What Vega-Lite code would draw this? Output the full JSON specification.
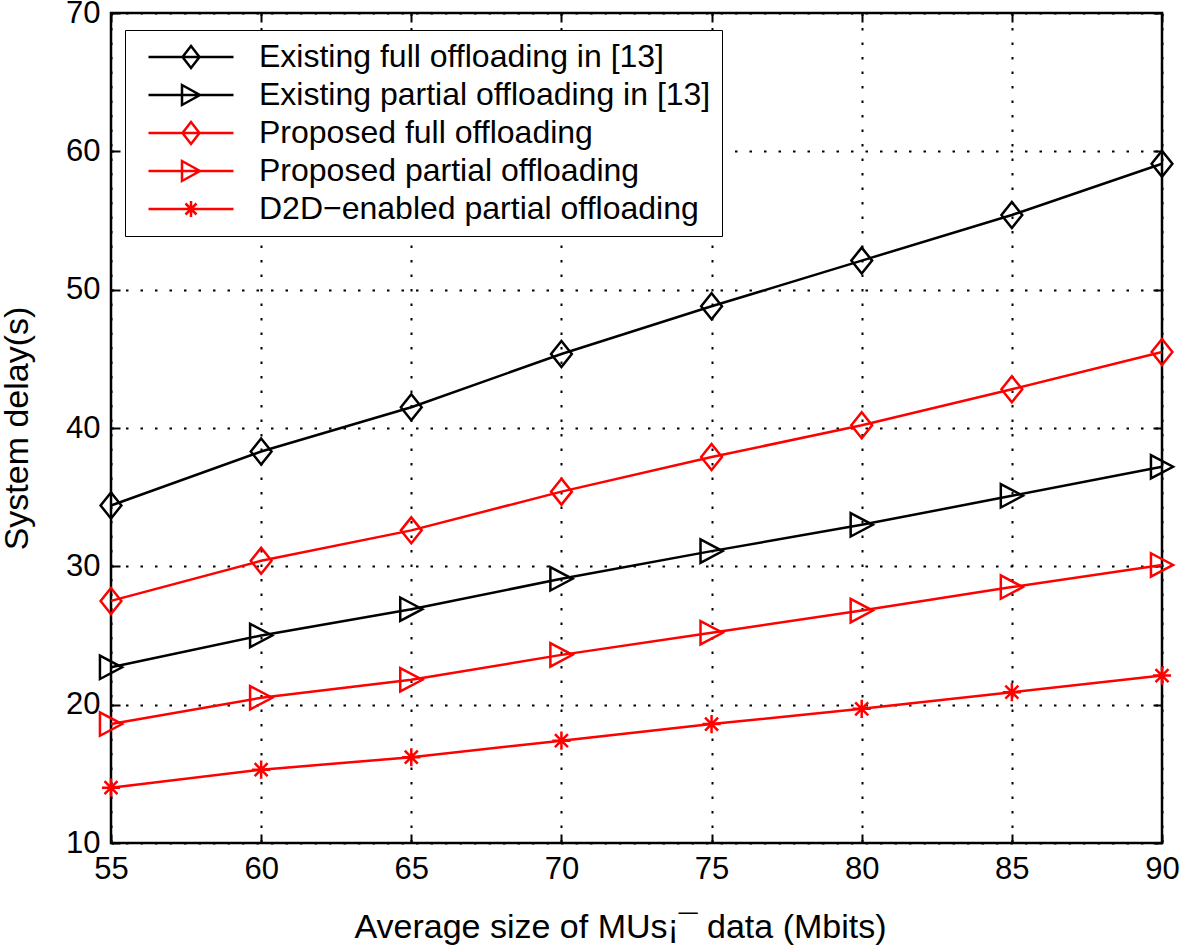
{
  "$schema": "https://vega.github.io/schema/vega-lite/v6.json",
  "width": 1051,
  "height": 830,
  "autosize": {"type": "none"},
  "padding": {"left": 111, "top": 13, "right": 23, "bottom": 109},
  "background": "white",
  "config": {
    "view": {"stroke": "black", "strokeWidth": 2.5},
    "font": "Liberation Sans",
    "axis": {
      "domain": false,
      "tickColor": "black",
      "tickWidth": 2,
      "tickSize": -9,
      "labelColor": "black",
      "labelFont": "Liberation Sans",
      "labelFontSize": 31,
      "labelFlush": false,
      "labelOverlap": false,
      "titleColor": "black",
      "titleFont": "Liberation Sans",
      "titleFontSize": 34,
      "titleFontWeight": "normal",
      "gridColor": "black",
      "gridOpacity": 1,
      "gridWidth": 2,
      "gridDash": [2.5, 12]
    }
  },
  "data": {
    "values": [
      {"series": "Existing full offloading in [13]", "x": 55, "y": 34.4},
      {"series": "Existing full offloading in [13]", "x": 60, "y": 38.3},
      {"series": "Existing full offloading in [13]", "x": 65, "y": 41.5},
      {"series": "Existing full offloading in [13]", "x": 70, "y": 45.35},
      {"series": "Existing full offloading in [13]", "x": 75, "y": 48.8},
      {"series": "Existing full offloading in [13]", "x": 80, "y": 52.1},
      {"series": "Existing full offloading in [13]", "x": 85, "y": 55.4},
      {"series": "Existing full offloading in [13]", "x": 90, "y": 59.1},
      {"series": "Existing partial offloading in [13]", "x": 55, "y": 22.7},
      {"series": "Existing partial offloading in [13]", "x": 60, "y": 25.0},
      {"series": "Existing partial offloading in [13]", "x": 65, "y": 26.9},
      {"series": "Existing partial offloading in [13]", "x": 70, "y": 29.1},
      {"series": "Existing partial offloading in [13]", "x": 75, "y": 31.1},
      {"series": "Existing partial offloading in [13]", "x": 80, "y": 33.0},
      {"series": "Existing partial offloading in [13]", "x": 85, "y": 35.1},
      {"series": "Existing partial offloading in [13]", "x": 90, "y": 37.2},
      {"series": "Proposed full offloading", "x": 55, "y": 27.5},
      {"series": "Proposed full offloading", "x": 60, "y": 30.4},
      {"series": "Proposed full offloading", "x": 65, "y": 32.6},
      {"series": "Proposed full offloading", "x": 70, "y": 35.4},
      {"series": "Proposed full offloading", "x": 75, "y": 37.9},
      {"series": "Proposed full offloading", "x": 80, "y": 40.2},
      {"series": "Proposed full offloading", "x": 85, "y": 42.8},
      {"series": "Proposed full offloading", "x": 90, "y": 45.5},
      {"series": "Proposed partial offloading", "x": 55, "y": 18.6},
      {"series": "Proposed partial offloading", "x": 60, "y": 20.5},
      {"series": "Proposed partial offloading", "x": 65, "y": 21.8},
      {"series": "Proposed partial offloading", "x": 70, "y": 23.6},
      {"series": "Proposed partial offloading", "x": 75, "y": 25.2},
      {"series": "Proposed partial offloading", "x": 80, "y": 26.8},
      {"series": "Proposed partial offloading", "x": 85, "y": 28.5},
      {"series": "Proposed partial offloading", "x": 90, "y": 30.1},
      {"series": "D2D−enabled partial offloading", "x": 55, "y": 14.0},
      {"series": "D2D−enabled partial offloading", "x": 60, "y": 15.3},
      {"series": "D2D−enabled partial offloading", "x": 65, "y": 16.2},
      {"series": "D2D−enabled partial offloading", "x": 70, "y": 17.4},
      {"series": "D2D−enabled partial offloading", "x": 75, "y": 18.6},
      {"series": "D2D−enabled partial offloading", "x": 80, "y": 19.7},
      {"series": "D2D−enabled partial offloading", "x": 85, "y": 20.9},
      {"series": "D2D−enabled partial offloading", "x": 90, "y": 22.1}
    ]
  },
  "layer": [
    {
      "mark": {"type": "line", "strokeWidth": 2.5},
      "encoding": {
        "x": {
          "field": "x", "type": "quantitative",
          "scale": {"domain": [55, 90], "nice": false, "zero": false},
          "axis": {
            "orient": "bottom",
            "values": [55, 60, 65, 70, 75, 80, 85, 90],
            "grid": true,
            "labelPadding": 20,
            "title": "Average size of MUs¡¯ data (Mbits)",
            "titleX": 509,
            "titleAlign": "center",
            "titlePadding": 26
          }
        },
        "y": {
          "field": "y", "type": "quantitative",
          "scale": {"domain": [10, 70], "nice": false, "zero": false},
          "axis": {
            "orient": "left",
            "values": [10, 20, 30, 40, 50, 60, 70],
            "grid": true,
            "labelPadding": 20,
            "title": "System delay(s)",
            "titlePadding": 31
          }
        },
        "color": {
          "field": "series", "type": "nominal",
          "scale": {
            "domain": ["Existing full offloading in [13]", "Existing partial offloading in [13]", "Proposed full offloading", "Proposed partial offloading", "D2D−enabled partial offloading"],
            "range": ["#000000", "#000000", "#ff0000", "#ff0000", "#ff0000"]
          },
          "legend": null
        }
      }
    },
    {
      "mark": {"type": "point", "filled": false, "strokeWidth": 2.5, "size": 676, "opacity": 1},
      "encoding": {
        "x": {"field": "x", "type": "quantitative", "axis": null},
        "y": {"field": "y", "type": "quantitative", "axis": null},
        "color": {
          "field": "series", "type": "nominal",
          "scale": {
            "domain": ["Existing full offloading in [13]", "Existing partial offloading in [13]", "Proposed full offloading", "Proposed partial offloading", "D2D−enabled partial offloading"],
            "range": ["#000000", "#000000", "#ff0000", "#ff0000", "#ff0000"]
          },
          "legend": null
        },
        "shape": {
          "field": "series", "type": "nominal",
          "scale": {
            "domain": ["Existing full offloading in [13]", "Existing partial offloading in [13]", "Proposed full offloading", "Proposed partial offloading", "D2D−enabled partial offloading"],
            "range": [
              "M0,-1L0.8,0L0,1L-0.8,0Z",
              "M-0.85,-0.9L0.85,0L-0.85,0.9Z",
              "M0,-1L0.8,0L0,1L-0.8,0Z",
              "M-0.85,-0.9L0.85,0L-0.85,0.9Z",
              "M-0.7,0H0.7M0,-0.7V0.7M-0.5,-0.5L0.5,0.5M-0.5,0.5L0.5,-0.5"
            ]
          },
          "legend": null
        }
      }
    },
    {
      "mark": {"type": "point", "filled": false, "opacity": 0, "size": 400, "strokeWidth": 2.5},
      "encoding": {
        "x": {
          "field": "x", "type": "quantitative",
          "axis": {"orient": "top", "values": [55, 60, 65, 70, 75, 80, 85, 90], "labels": false, "grid": false, "title": null}
        },
        "y": {
          "field": "y", "type": "quantitative",
          "axis": {"orient": "right", "values": [10, 20, 30, 40, 50, 60, 70], "labels": false, "grid": false, "title": null}
        },
        "color": {
          "field": "series", "type": "nominal",
          "scale": {
            "domain": ["Existing full offloading in [13]", "Existing partial offloading in [13]", "Proposed full offloading", "Proposed partial offloading", "D2D−enabled partial offloading"],
            "range": ["#000000", "#000000", "#ff0000", "#ff0000", "#ff0000"]
          },
          "legend": {
            "orient": "none",
            "legendX": 14,
            "legendY": 17,
            "title": null,
            "padding": 11,
            "symbolOffset": 39,
            "labelOffset": 52,
            "labelFont": "Liberation Sans",
            "labelFontSize": 32,
            "labelColor": "black",
            "labelLimit": 0,
            "strokeColor": "black",
            "fillColor": "white",
            "rowPadding": 6,
            "symbolSize": 400,
            "symbolStrokeWidth": 2.5,
            "symbolOpacity": 1,
            "encode": {
              "legend": {"update": {"strokeWidth": {"value": 2.5}}},
              "symbols": {"update": {"opacity": {"value": 1}, "fill": {"value": "transparent"}}}
            }
          }
        },
        "shape": {
          "field": "series", "type": "nominal",
          "scale": {
            "domain": ["Existing full offloading in [13]", "Existing partial offloading in [13]", "Proposed full offloading", "Proposed partial offloading", "D2D−enabled partial offloading"],
            "range": [
              "M-4.25,0H4.25M0,-1.1L0.85,0L0,1.1L-0.85,0Z",
              "M-4.25,0H4.25M-0.9,-1L0.9,0L-0.9,1Z",
              "M-4.25,0H4.25M0,-1.1L0.85,0L0,1.1L-0.85,0Z",
              "M-4.25,0H4.25M-0.9,-1L0.9,0L-0.9,1Z",
              "M-4.25,0H4.25M0,-0.8V0.8M-0.55,-0.55L0.55,0.55M-0.55,0.55L0.55,-0.55"
            ]
          },
          "legend": {
            "orient": "none",
            "legendX": 14,
            "legendY": 17,
            "title": null,
            "padding": 11,
            "symbolOffset": 39,
            "labelOffset": 52,
            "labelFont": "Liberation Sans",
            "labelFontSize": 32,
            "labelColor": "black",
            "labelLimit": 0,
            "strokeColor": "black",
            "fillColor": "white",
            "rowPadding": 6,
            "symbolSize": 400,
            "symbolStrokeWidth": 2.5,
            "symbolOpacity": 1,
            "encode": {
              "legend": {"update": {"strokeWidth": {"value": 2.5}}},
              "symbols": {"update": {"opacity": {"value": 1}, "fill": {"value": "transparent"}}}
            }
          }
        }
      }
    }
  ],
  "resolve": {
    "scale": {"shape": "independent", "color": "independent"},
    "axis": {"x": "independent", "y": "independent"}
  }
}
